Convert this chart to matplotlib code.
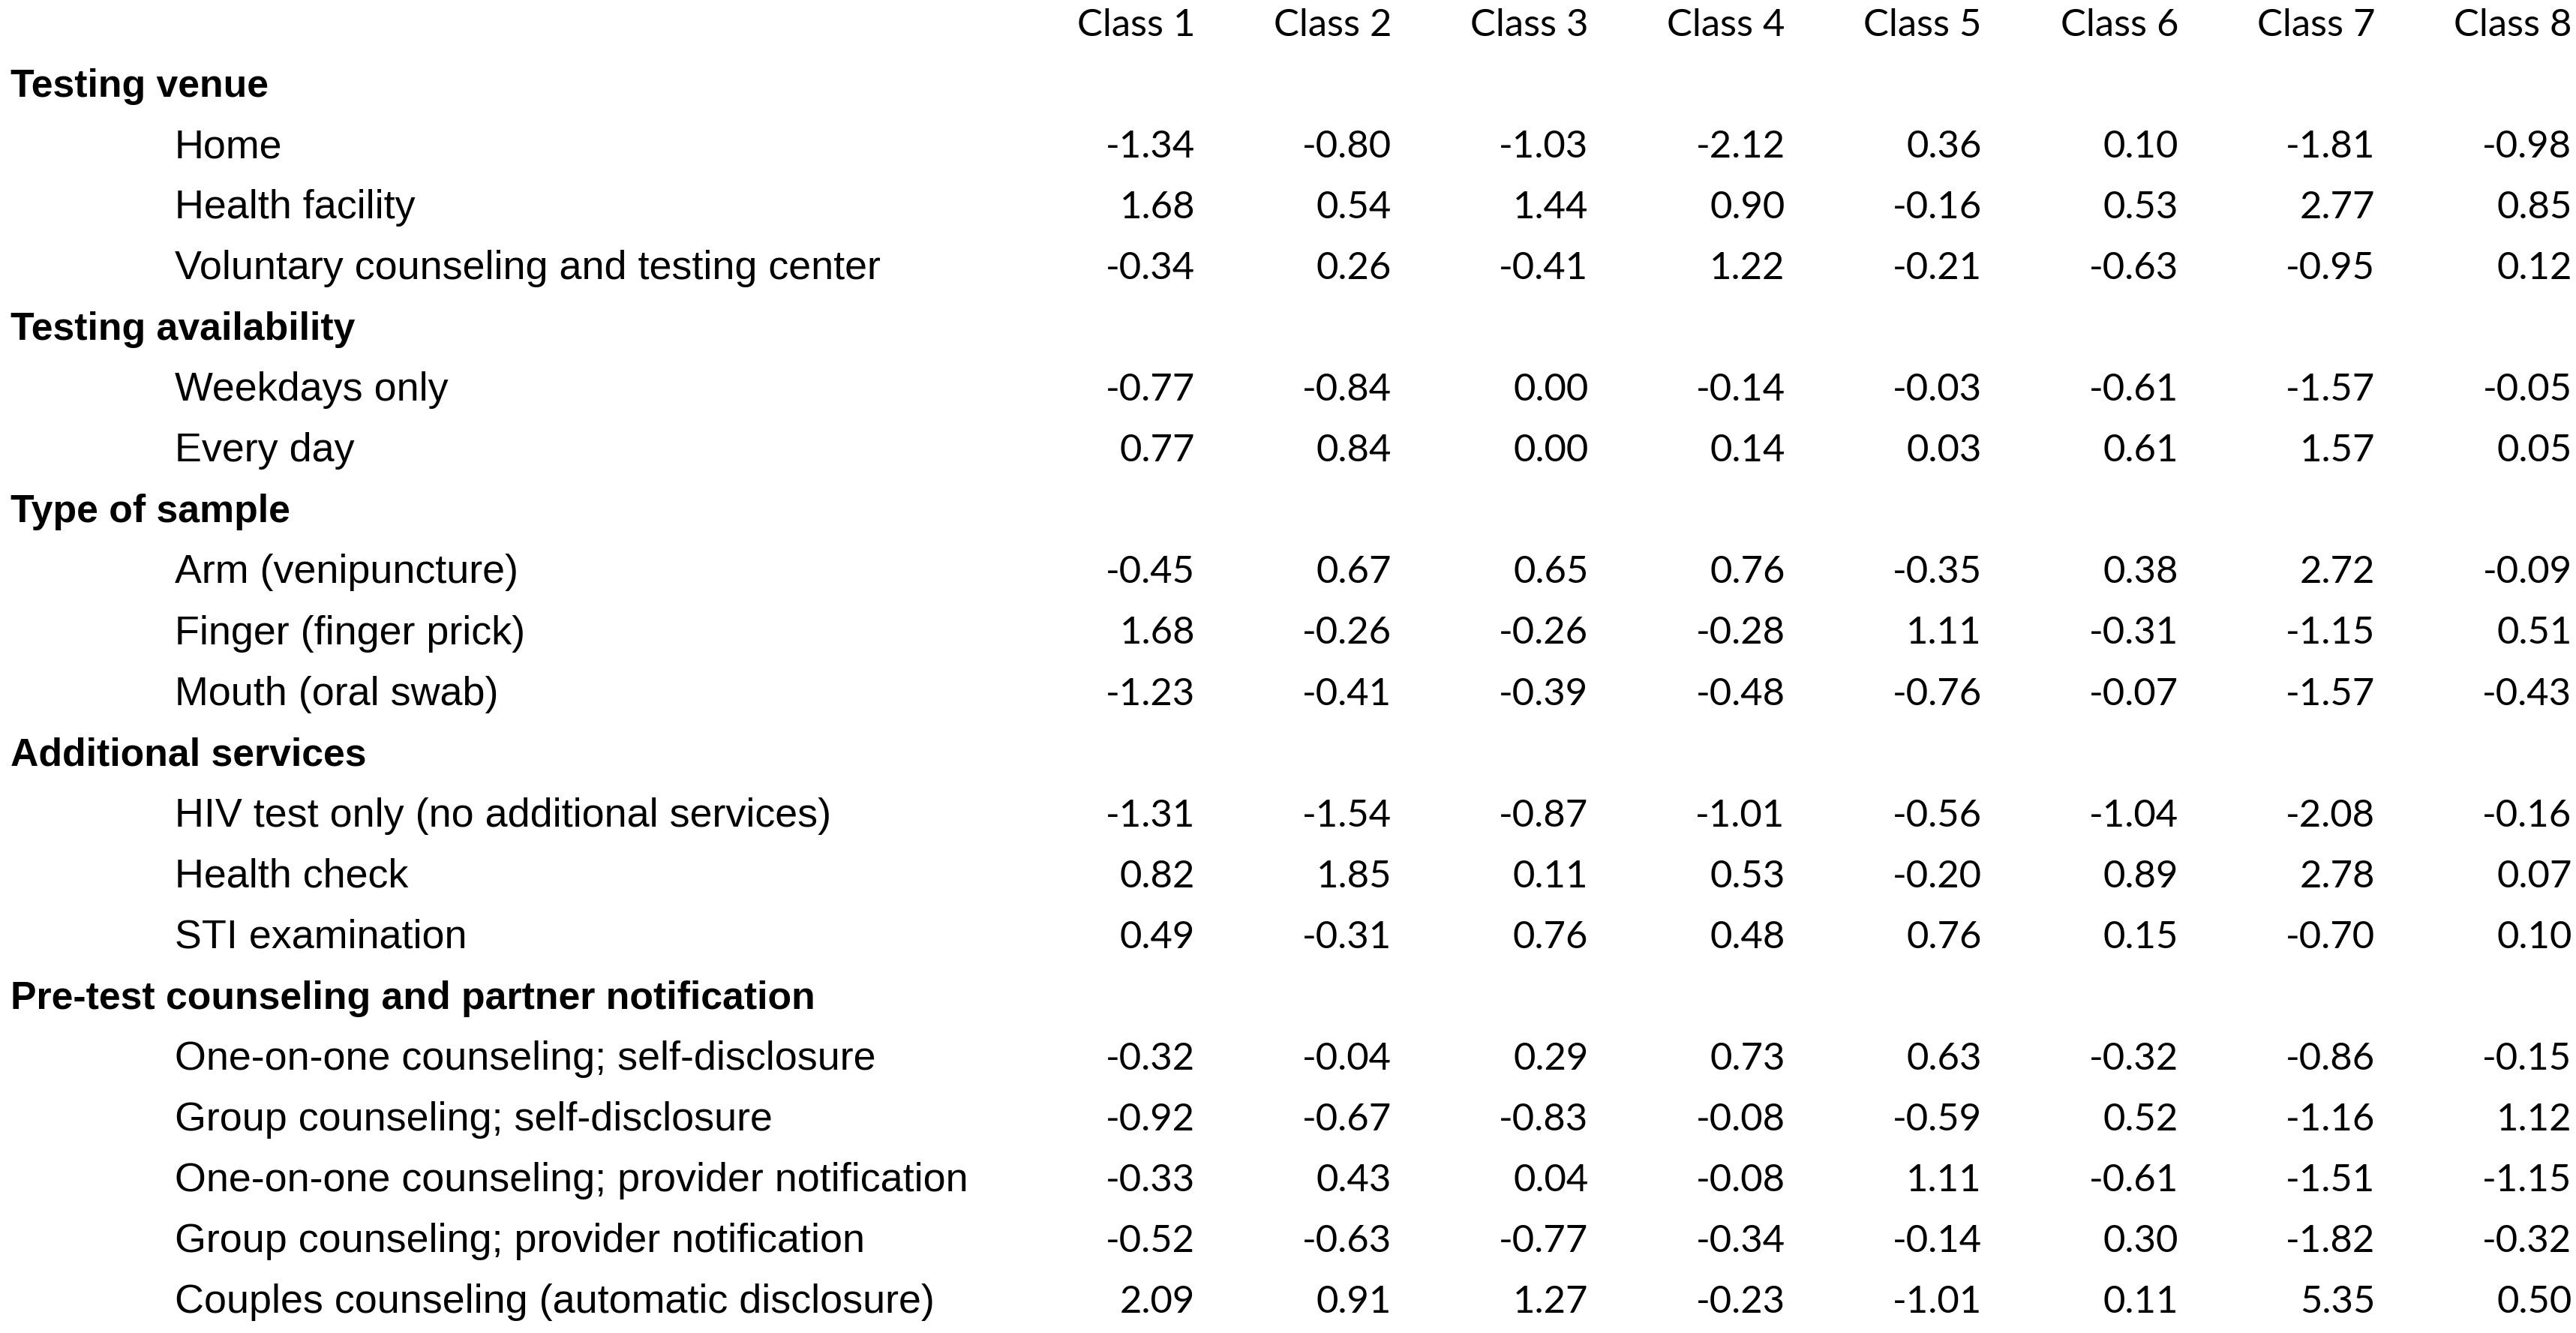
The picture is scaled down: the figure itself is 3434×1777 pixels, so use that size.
import matplotlib
matplotlib.use("Agg")
import matplotlib.pyplot as plt

# ---------------- data ----------------
classes = ["Class 1", "Class 2", "Class 3", "Class 4", "Class 5", "Class 6", "Class 7", "Class 8"]

sections = ["Testing venue", "Testing availability", "Type of sample",
            "Additional services", "Pre-test counseling and partner notification"]

venue_items = ["Home", "Health facility", "Voluntary counseling and testing center"]
venue_values = [
    [-1.34, -0.80, -1.03, -2.12, 0.36, 0.10, -1.81, -0.98],
    [1.68, 0.54, 1.44, 0.90, -0.16, 0.53, 2.77, 0.85],
    [-0.34, 0.26, -0.41, 1.22, -0.21, -0.63, -0.95, 0.12],
]

availability_items = ["Weekdays only", "Every day"]
availability_values = [
    [-0.77, -0.84, 0.00, -0.14, -0.03, -0.61, -1.57, -0.05],
    [0.77, 0.84, 0.00, 0.14, 0.03, 0.61, 1.57, 0.05],
]

sample_items = ["Arm (venipuncture)", "Finger (finger prick)", "Mouth (oral swab)"]
sample_values = [
    [-0.45, 0.67, 0.65, 0.76, -0.35, 0.38, 2.72, -0.09],
    [1.68, -0.26, -0.26, -0.28, 1.11, -0.31, -1.15, 0.51],
    [-1.23, -0.41, -0.39, -0.48, -0.76, -0.07, -1.57, -0.43],
]

services_items = ["HIV test only (no additional services)", "Health check", "STI examination"]
services_values = [
    [-1.31, -1.54, -0.87, -1.01, -0.56, -1.04, -2.08, -0.16],
    [0.82, 1.85, 0.11, 0.53, -0.20, 0.89, 2.78, 0.07],
    [0.49, -0.31, 0.76, 0.48, 0.76, 0.15, -0.70, 0.10],
]

counseling_items = ["One-on-one counseling; self-disclosure",
                    "Group counseling; self-disclosure",
                    "One-on-one counseling; provider notification",
                    "Group counseling; provider notification",
                    "Couples counseling (automatic disclosure)"]
counseling_values = [
    [-0.32, -0.04, 0.29, 0.73, 0.63, -0.32, -0.86, -0.15],
    [-0.92, -0.67, -0.83, -0.08, -0.59, 0.52, -1.16, 1.12],
    [-0.33, 0.43, 0.04, -0.08, 1.11, -0.61, -1.51, -1.15],
    [-0.52, -0.63, -0.77, -0.34, -0.14, 0.30, -1.82, -0.32],
    [2.09, 0.91, 1.27, -0.23, -1.01, 0.11, 5.35, 0.50],
]

groups = [
    (sections[0], venue_items, venue_values),
    (sections[1], availability_items, availability_values),
    (sections[2], sample_items, sample_values),
    (sections[3], services_items, services_values),
    (sections[4], counseling_items, counseling_values),
]

# ---------------- layout ----------------
W, H = 3434, 1777
fig = plt.figure(figsize=(W / 100, H / 100), dpi=100)
ax = fig.add_axes([0, 0, 1, 1])
ax.set_xlim(0, W)
ax.set_ylim(H, 0)
ax.axis("off")

label_font = "Liberation Sans"
num_font = "Lato"
label_size = 38.8
head_size = 37.3
num_size = 36.5

row_step = 81.05
base0 = 48
col_right0 = 1593
col_step = 262.2
x_section = 14
x_item = 233

def baseline(i):
    return base0 + i * row_step

for j, c in enumerate(classes):
    ax.text(col_right0 + j * col_step, baseline(0), c, ha="right", va="baseline",
            fontsize=num_size, family=num_font, color="black")

r = 1
for title, items, vals in groups:
    ax.text(x_section, baseline(r), title, ha="left", va="baseline",
            fontsize=head_size, family=label_font, fontweight="bold", color="black")
    r += 1
    for name, row in zip(items, vals):
        ax.text(x_item, baseline(r), name, ha="left", va="baseline",
                fontsize=label_size, family=label_font, color="black")
        for j, v in enumerate(row):
            ax.text(col_right0 + j * col_step, baseline(r), f"{v:.2f}", ha="right",
                    va="baseline", fontsize=num_size, family=num_font, color="black")
        r += 1

fig.savefig("out.png", dpi=100, facecolor="white")
